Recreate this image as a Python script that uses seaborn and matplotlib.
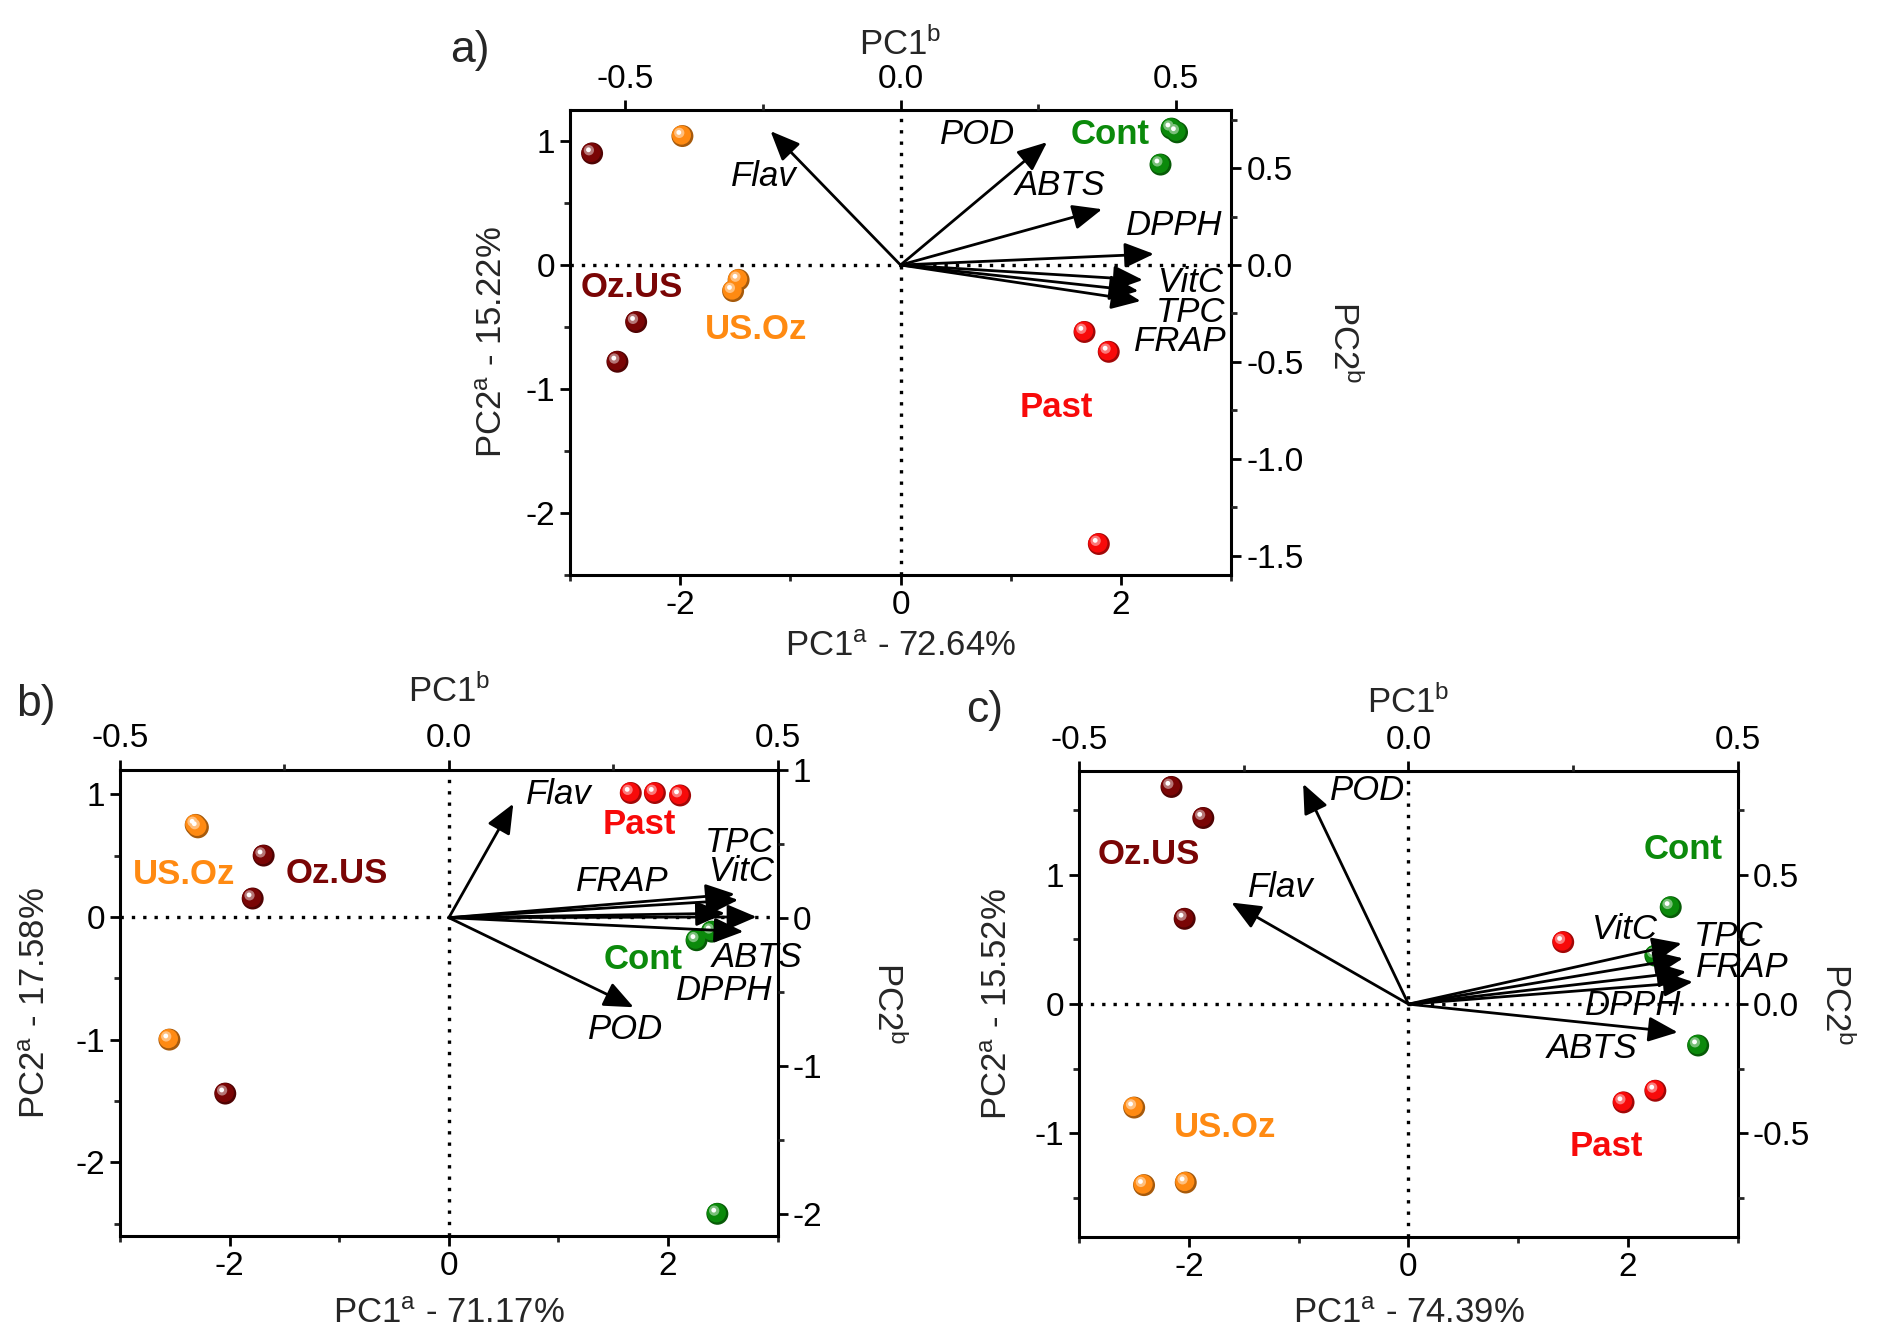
import numpy as np
import pandas as pd
import matplotlib
matplotlib.use("Agg")
import matplotlib.pyplot as plt
import seaborn as sns
from matplotlib.ticker import MultipleLocator, FormatStrFormatter
from matplotlib.transforms import offset_copy
from matplotlib.colors import to_rgb

# ---------------- data ----------------
groups = ["Cont"] * 3 + ["Past"] * 3 + ["Oz.US"] * 3 + ["US.Oz"] * 3

a_pc1 = [2.46, 2.51, 2.36, 1.67, 1.89, 1.80, -2.80, -2.40, -2.57, -1.98, -1.47, -1.52]
a_pc2 = [1.10, 1.07, 0.81, -0.54, -0.70, -2.25, 0.90, -0.46, -0.78, 1.04, -0.12, -0.21]
b_pc1 = [2.26, 2.40, 2.45, 1.66, 1.88, 2.11, -1.69, -1.79, -2.04, -2.31, -2.29, -2.55]
b_pc2 = [-0.19, -0.12, -2.42, 1.01, 1.01, 0.99, 0.50, 0.15, -1.44, 0.75, 0.73, -1.00]
c_pc1 = [2.39, 2.25, 2.64, 1.41, 1.96, 2.25, -2.16, -1.87, -2.04, -2.50, -2.41, -2.03]
c_pc2 = [0.75, 0.375, -0.32, 0.48, -0.76, -0.67, 1.68, 1.44, 0.66, -0.80, -1.40, -1.38]

variables = ["TPC", "Flav", "VitC", "FRAP", "DPPH", "ABTS", "POD"]
a_load1 = [0.432, -0.236, 0.440, 0.436, 0.460, 0.366, 0.266]
a_load2 = [-0.134, 0.691, -0.077, -0.186, 0.057, 0.288, 0.634]
b_load1 = [0.435, 0.098, 0.440, 0.420, 0.468, 0.448, 0.281]
b_load2 = [0.160, 0.770, 0.120, 0.030, 0.005, -0.094, -0.605]
c_load1 = [0.417, -0.269, 0.415, 0.422, 0.432, 0.409, -0.160]
c_load2 = [0.177, 0.393, 0.235, 0.125, 0.086, -0.109, 0.852]

variance_pc1 = [72.64, 71.17, 74.39]
variance_pc2 = [15.22, 17.58, 15.52]
panel_letters = ["a)", "b)", "c)"]

palette = {"Cont": "#0B8A0B", "Past": "#F80A0A", "Oz.US": "#7A0505", "US.Oz": "#FF8A12"}

# ---------------- layout (positions / styles only) ----------------
layout = [
    dict(rect=[0.3029, 0.5709, 0.3512, 0.3470], ylim=(-2.5, 1.25), bx=(-0.6, 0.6), by=(-1.6, 0.8),
         rmaj=0.5, rmin=0.25, rfmt="%.1f",
         xl=(0.5, -0.153), yl=(-0.118, 0.5), tl=(0.5, 1.141), rl=(1.171, 0.5),
         letter=(0.2497, 0.962),
         grp_pos={"Cont": (1.90, 1.05), "Past": (1.41, -1.15), "Oz.US": (-2.44, -0.18), "US.Oz": (-1.31, -0.52)},
         var_pos={"Flav": (-1.24, 0.71), "POD": (0.70, 1.05), "ABTS": (1.45, 0.64), "DPPH": (2.48, 0.32),
                  "VitC": (2.63, -0.14), "TPC": (2.63, -0.38), "FRAP": (2.54, -0.62)}),
    dict(rect=[0.0638, 0.0777, 0.3494, 0.3479], ylim=(-2.6, 1.2), bx=(-0.5, 0.5), by=(-2.15, 1.0),
         rmaj=1.0, rmin=0.5, rfmt="%d",
         xl=(0.5, -0.167), yl=(-0.128, 0.5), tl=(0.5, 1.169), rl=(1.168, 0.5),
         letter=(0.019, 0.474),
         grp_pos={"Past": (1.74, 0.75), "Cont": (1.77, -0.35), "US.Oz": (-2.42, 0.345), "Oz.US": (-1.02, 0.35)},
         var_pos={"Flav": (1.00, 1.00), "TPC": (2.65, 0.61), "VitC": (2.67, 0.37), "FRAP": (1.58, 0.29),
                  "ABTS": (2.81, -0.33), "DPPH": (2.51, -0.60), "POD": (1.61, -0.92)}),
    dict(rect=[0.5735, 0.0770, 0.3498, 0.3473], ylim=(-1.8, 1.8), bx=(-0.5, 0.5), by=(-0.9, 0.9),
         rmaj=0.5, rmin=0.25, rfmt="%.1f",
         xl=(0.5, -0.165), yl=(-0.124, 0.5), tl=(0.5, 1.149), rl=(1.149, 0.5),
         letter=(0.523, 0.470),
         grp_pos={"Oz.US": (-2.37, 1.16), "Cont": (2.50, 1.20), "US.Oz": (-1.67, -0.955), "Past": (1.80, -1.10)},
         var_pos={"POD": (-0.37, 1.65), "Flav": (-1.16, 0.90), "VitC": (1.97, 0.58), "TPC": (2.92, 0.52),
                  "FRAP": (3.04, 0.28), "DPPH": (2.05, -0.01), "ABTS": (1.67, -0.345)}),
]

sns.set_style("ticks")
plt.rcParams["font.family"] = ["Liberation Sans", "DejaVu Sans"]
plt.rcParams["axes.unicode_minus"] = False
plt.rcParams["mathtext.default"] = "regular"

TICK_FS = 24
LABEL_FS = 25
TXT_FS = 25

fig = plt.figure(figsize=(18.82, 13.40), dpi=100)
fig.patch.set_facecolor("white")

scores = [(a_pc1, a_pc2), (b_pc1, b_pc2), (c_pc1, c_pc2)]
loads = [(a_load1, a_load2), (b_load1, b_load2), (c_load1, c_load2)]


def mix(c, w, t):
    c = np.array(to_rgb(c)); w = np.array(to_rgb(w))
    return tuple(c * (1 - t) + w * t)


def style_ticks(axis_obj):
    axis_obj.tick_params(which="major", direction="out", length=7, width=2,
                         labelsize=TICK_FS, pad=4, colors="black")
    axis_obj.tick_params(which="minor", direction="out", length=4, width=2)


for i, L in enumerate(layout):
    ax = fig.add_axes(L["rect"])
    ax.set_facecolor("white")
    df = pd.DataFrame({"PC1": scores[i][0], "PC2": scores[i][1], "group": groups})
    ld = pd.DataFrame({"var": variables, "L1": loads[i][0], "L2": loads[i][1]})

    ax.set_xlim(-3, 3)
    ax.set_ylim(*L["ylim"])
    ax.axhline(0, color="black", lw=2.4, ls=(0, (1, 2.4)), zorder=1)
    ax.axvline(0, color="black", lw=2.4, ls=(0, (1, 2.4)), zorder=1)

    # score points as shaded spheres
    dark_pal = {k: mix(v, "black", 0.35) for k, v in palette.items()}
    sns.scatterplot(data=df, x="PC1", y="PC2", hue="group", palette=dark_pal, s=250,
                    edgecolor="none", legend=False, ax=ax, zorder=3)
    cols = [palette[g] for g in df["group"]]
    ax.scatter(df["PC1"], df["PC2"], s=190, c=cols, edgecolors="none", zorder=4,
               transform=offset_copy(ax.transData, fig=fig, x=-0.7, y=0.7, units="points"))
    ax.scatter(df["PC1"], df["PC2"], s=55, c=[mix(c, "white", 0.45) for c in cols], edgecolors="none",
               zorder=5, transform=offset_copy(ax.transData, fig=fig, x=-2.3, y=2.3, units="points"))
    ax.scatter(df["PC1"], df["PC2"], s=12, c="white", edgecolors="none", zorder=6,
               transform=offset_copy(ax.transData, fig=fig, x=-2.6, y=2.6, units="points"))

    ax.xaxis.set_major_locator(MultipleLocator(2))
    ax.xaxis.set_minor_locator(MultipleLocator(1))
    ax.yaxis.set_major_locator(MultipleLocator(1))
    ax.yaxis.set_minor_locator(MultipleLocator(0.5))
    ax.xaxis.set_major_formatter(FormatStrFormatter("%d"))
    ax.yaxis.set_major_formatter(FormatStrFormatter("%d"))
    style_ticks(ax)
    ax.tick_params(which="both", top=False, right=False)
    for sp in ax.spines.values():
        sp.set_linewidth(2.2)
        sp.set_color("black")
        sp.set_visible(True)

    ax.set_xlabel("PC1$^\\mathregular{a}$ - %.2f%%" % variance_pc1[i], fontsize=LABEL_FS,
                  ha="center", va="center")
    ax.set_ylabel("PC2$^\\mathregular{a}$ - %.2f%%" % variance_pc2[i], fontsize=LABEL_FS,
                  ha="center", va="center")
    ax.xaxis.set_label_coords(*L["xl"])
    ax.yaxis.set_label_coords(*L["yl"])

    # loadings axes (top / right)
    ax2 = fig.add_axes(L["rect"], frameon=False, zorder=ax.get_zorder() + 1)
    ax2.patch.set_visible(False)
    ax2.set_xlim(*L["bx"])
    ax2.set_ylim(*L["by"])
    ax2.xaxis.tick_top()
    ax2.yaxis.tick_right()
    ax2.xaxis.set_label_position("top")
    ax2.yaxis.set_label_position("right")
    ax2.xaxis.set_major_locator(MultipleLocator(0.5))
    ax2.xaxis.set_minor_locator(MultipleLocator(0.25))
    ax2.yaxis.set_major_locator(MultipleLocator(L["rmaj"]))
    ax2.yaxis.set_minor_locator(MultipleLocator(L["rmin"]))
    ax2.xaxis.set_major_formatter(FormatStrFormatter("%.1f"))
    ax2.yaxis.set_major_formatter(FormatStrFormatter(L["rfmt"]))
    style_ticks(ax2)
    ax2.tick_params(which="both", bottom=False, left=False, labelbottom=False, labelleft=False,
                    top=True, right=True, labeltop=True, labelright=True)
    ax2.set_xlabel("PC1$^\\mathregular{b}$", fontsize=LABEL_FS, ha="center", va="center")
    ax2.set_ylabel("PC2$^\\mathregular{b}$", fontsize=LABEL_FS, rotation=-90, ha="center", va="center")
    ax2.xaxis.set_label_coords(*L["tl"])
    ax2.yaxis.set_label_coords(*L["rl"])

    for _, r in ld.iterrows():
        ax2.annotate("", xy=(r["L1"], r["L2"]), xytext=(0, 0),
                     arrowprops=dict(arrowstyle="-|>,head_length=0.75,head_width=0.32",
                                     lw=2.0, color="black", mutation_scale=24,
                                     shrinkA=0, shrinkB=0), zorder=7)

    for v, (tx, ty) in L["var_pos"].items():
        ax2.text(tx, ty, v, transform=ax.transData, fontsize=TXT_FS, style="italic",
                 ha="center", va="center", color="black", zorder=8)
    for g, (tx, ty) in L["grp_pos"].items():
        ax2.text(tx, ty, g, transform=ax.transData, fontsize=TXT_FS, fontweight="bold",
                 ha="center", va="center", color=palette[g], zorder=8)

    fig.text(L["letter"][0], L["letter"][1], panel_letters[i], fontsize=32,
             ha="center", va="center")

fig.savefig("out.png", dpi=100, facecolor="white")
